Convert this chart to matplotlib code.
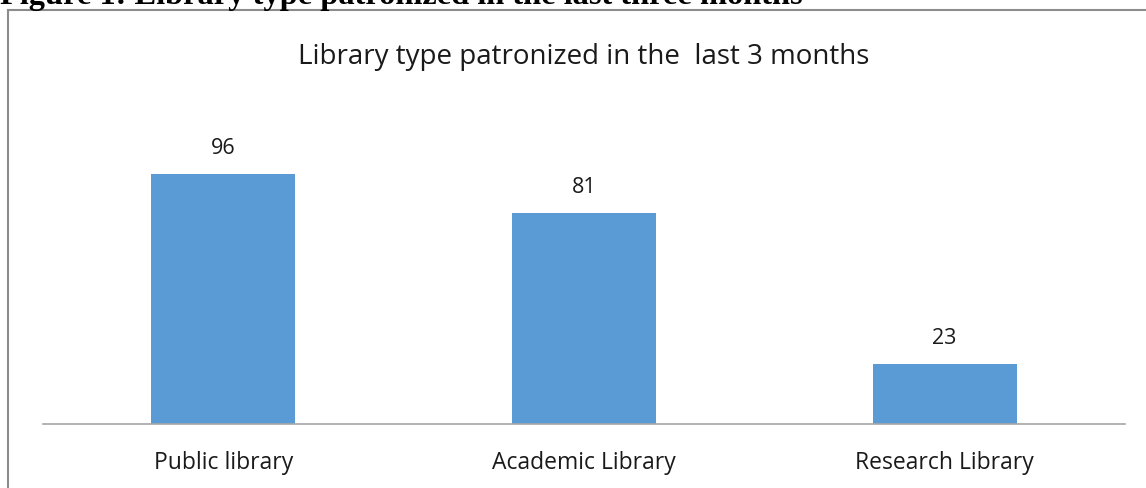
import matplotlib.pyplot as plt
from matplotlib.patches import Rectangle

categories = ['Public library', 'Academic Library', 'Research Library']
values = [96, 81, 23]
title = 'Library type patronized in the  last 3 months'
caption = 'Figure 1: Library type patronized in the last three months'

W, H = 1146, 489
fig = plt.figure(figsize=(W / 100, H / 100), dpi=100)
fig.patch.set_facecolor('white')

# outer chart frame (right and bottom edges run off the picture)
fig.patches.append(Rectangle((8 / W, -0.1), 1.2, 1 - 11 / H + 0.1,
                             transform=fig.transFigure, fill=False,
                             edgecolor='#8c8c8c', linewidth=1.5))

# caption, cut off at the top edge like in the source page
fig.text(0.0, 1 - 4 / H, caption, fontsize=23.3, fontweight='bold',
         family='Liberation Serif', va='baseline', ha='left')

ax = fig.add_axes([43 / W, 1 - 425 / H, 1082 / W, 312 / H])
ax.bar(range(len(categories)), values, width=0.4, color='#5b9bd5')
ax.set_xlim(-0.5, 2.5)
ax.set_ylim(0, 120)
for s in ['top', 'right', 'left']:
    ax.spines[s].set_visible(False)
ax.spines['bottom'].set_color('#a6a6a6')
ax.spines['bottom'].set_linewidth(1.2)
ax.set_yticks([])
ax.set_xticks(range(len(categories)))
ax.set_xticklabels(categories, family='Open Sans', fontsize=16.5, color='#1a1a1a')
ax.tick_params(axis='x', length=0, pad=19)

for i, v in enumerate(values):
    ax.annotate(str(v), (i, v), xytext=(0, 12), textcoords='offset points',
                ha='center', va='bottom', family='Open Sans', fontsize=15.5,
                color='#1a1a1a')

fig.text(584 / W, 1 - 57 / H, title, family='Open Sans', fontsize=20,
         ha='center', va='center', color='#1a1a1a')

fig.savefig('out.png', dpi=100)
